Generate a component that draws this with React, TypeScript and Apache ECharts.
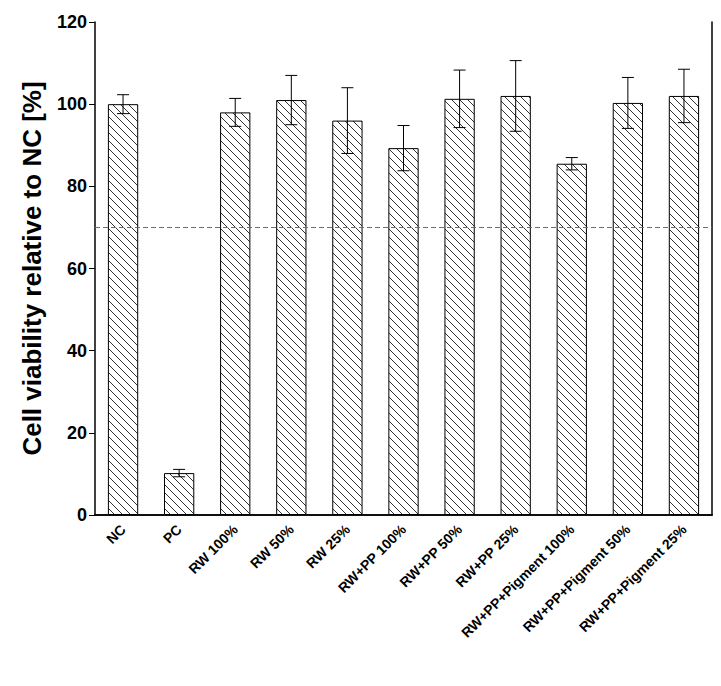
import React, { useEffect, useRef } from 'react';
import * as echarts from 'echarts';

const categories = ['NC', 'PC', 'RW 100%', 'RW 50%', 'RW 25%', 'RW+PP 100%', 'RW+PP 50%', 'RW+PP 25%', 'RW+PP+Pigment 100%', 'RW+PP+Pigment 50%', 'RW+PP+Pigment 25%'];
const viability = [100, 10.2, 98, 101, 96, 89.3, 101.3, 102, 85.5, 100.3, 102];
const errors = [2.3, 0.9, 3.4, 6, 8, 5.5, 7, 8.6, 1.5, 6.2, 6.5];
const threshold = 70;

const makeHatch = () => {
  const c = document.createElement('canvas');
  c.width = 8;
  c.height = 8;
  const ctx = c.getContext('2d')!;
  ctx.fillStyle = '#fff';
  ctx.fillRect(0, 0, 8, 8);
  ctx.strokeStyle = '#000';
  ctx.lineWidth = 0.8;
  ctx.beginPath();
  ctx.moveTo(-1, -1); ctx.lineTo(9, 9);
  ctx.moveTo(-1, 7); ctx.lineTo(1, 9);
  ctx.moveTo(7, -1); ctx.lineTo(9, 1);
  ctx.stroke();
  return c;
};

const App = () => {
  const ref = useRef<HTMLDivElement>(null);

  useEffect(() => {
    if (!ref.current) return;
    const chart = echarts.init(ref.current, undefined, { renderer: 'svg' });
    const noLabels = { show: false };
    chart.setOption({
      animation: false,
      grid: { left: 95, right: 9, top: 22, bottom: 171 },
      xAxis: [
        {
          type: 'category',
          data: categories,
          axisLine: { lineStyle: { color: '#000', width: 1.5 } },
          axisTick: { alignWithLabel: true, length: 5, lineStyle: { color: '#000' } },
          axisLabel: { rotate: 45, interval: 0, color: '#000', fontWeight: 'bold', fontSize: 14, fontFamily: 'Liberation Sans, Arial', margin: 12 },
        },
        {
          type: 'category',
          position: 'top',
          data: categories,
          axisLine: { lineStyle: { color: '#000', width: 1.5 } },
          axisTick: noLabels,
          axisLabel: noLabels,
        },
      ],
      yAxis: [
        {
          type: 'value',
          min: 0,
          max: 120,
          interval: 20,
          name: 'Cell viability relative to NC [%]',
          nameLocation: 'middle',
          nameGap: 50,
          nameTextStyle: { fontSize: 26, fontWeight: 'bold', color: '#000', fontFamily: 'Liberation Sans, Arial' },
          splitLine: { show: false },
          axisLine: { show: true, lineStyle: { color: '#000', width: 1.5 } },
          axisTick: { show: true, length: 6, lineStyle: { color: '#000' } },
          axisLabel: { color: '#000', fontWeight: 'bold', fontSize: 18, fontFamily: 'Liberation Sans, Arial' },
        },
        {
          type: 'value',
          position: 'right',
          min: 0,
          max: 120,
          interval: 20,
          splitLine: { show: false },
          axisLine: { show: true, lineStyle: { color: '#000', width: 1.5 } },
          axisTick: noLabels,
          axisLabel: noLabels,
        },
      ],
      series: [
        {
          type: 'bar',
          data: viability,
          barWidth: '54%',
          itemStyle: { color: { image: makeHatch(), repeat: 'repeat' } as any, borderColor: '#000', borderWidth: 1 },
          markLine: {
            silent: true,
            symbol: 'none',
            label: { show: false },
            itemStyle: { color: '#e0403a' },
            lineStyle: { color: '#e0403a', type: [5, 3], width: 1.2 },
            data: [{ yAxis: threshold, lineStyle: { color: '#e0403a' } }],
          },
        },
        {
          type: 'custom',
          data: viability.map((v, i) => [i, v - errors[i], v + errors[i]]),
          renderItem: (params: any, api: any) => {
            const lo = api.coord([api.value(0), api.value(1)]);
            const hi = api.coord([api.value(0), api.value(2)]);
            const w = 6;
            const st = { stroke: '#000', lineWidth: 1 };
            return {
              type: 'group',
              children: [
                { type: 'line', shape: { x1: lo[0], y1: lo[1], x2: hi[0], y2: hi[1] }, style: st },
                { type: 'line', shape: { x1: lo[0] - w, y1: lo[1], x2: lo[0] + w, y2: lo[1] }, style: st },
                { type: 'line', shape: { x1: hi[0] - w, y1: hi[1], x2: hi[0] + w, y2: hi[1] }, style: st },
              ],
            };
          },
          z: 10,
        },
      ],
    });
    return () => chart.dispose();
  }, []);

  return <div ref={ref} style={{ position: 'absolute', left: 0, top: 0, width: 721, height: 686, background: '#fff' }} />;
};

export default App;
